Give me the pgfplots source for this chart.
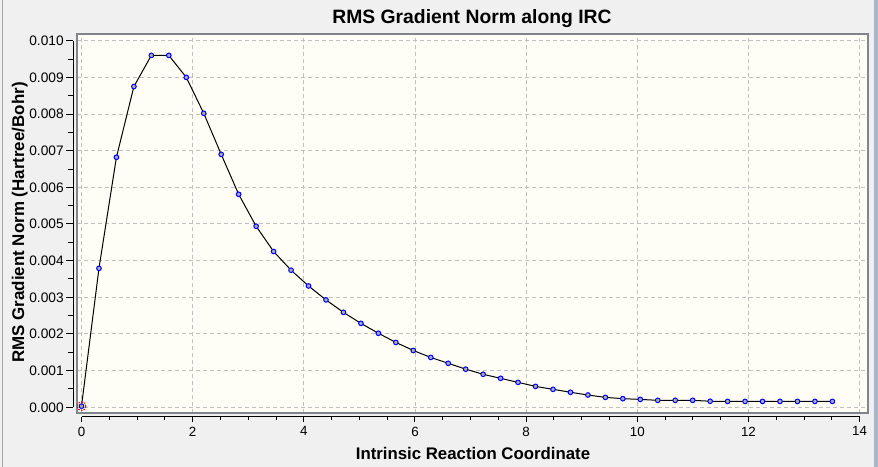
\documentclass[border=0pt]{standalone}
\usepackage{fontspec}
\setmainfont{Liberation Sans}
\usepackage{pgfplots}
\pgfplotsset{compat=1.18}
\definecolor{bgc}{RGB}{240,240,240}
\definecolor{plotbg}{RGB}{254,254,246}
\definecolor{boxc}{RGB}{128,132,140}
\definecolor{gridc}{RGB}{192,192,192}
\definecolor{markfill}{RGB}{170,170,185}
\definecolor{edgec}{RGB}{168,182,202}
\pgfplotstableread{
x y
0 0.00003
0.3142 0.00379
0.6283 0.00682
0.9425 0.00875
1.2566 0.00960
1.5708 0.00960
1.8850 0.00900
2.1991 0.00802
2.5133 0.00690
2.8274 0.00581
3.1416 0.00494
3.4558 0.00425
3.7699 0.00374
4.0841 0.00331
4.3982 0.00293
4.7124 0.00259
5.0265 0.00229
5.3407 0.00202
5.6549 0.00177
5.9690 0.00155
6.2832 0.00136
6.5973 0.00120
6.9115 0.00104
7.2257 0.00090
7.5398 0.00079
7.8540 0.00068
8.1681 0.00057
8.4823 0.00049
8.7965 0.00041
9.1106 0.000335
9.4248 0.00027
9.7389 0.000235
10.0531 0.000215
10.3673 0.00019
10.6814 0.00019
10.9956 0.00019
11.3097 0.000165
11.6239 0.00016
11.9381 0.00016
12.2522 0.00016
12.5664 0.00016
12.8805 0.00016
13.1947 0.00016
13.5088 0.00016
}\irc
\begin{document}
\begin{tikzpicture}[x=0.75pt,y=0.75pt]
\path[use as bounding box, fill=bgc] (0,0) rectangle (878,467);
\fill[edgec] (874,0) rectangle (878,467);
\draw[black!35, line width=0.75pt] (2.5,0) -- (2.5,467);

\begin{axis}[
  at={(57.75pt,40.275pt)}, anchor=south west, scale only axis,
  width=593.5pt, height=284.25pt,
  xmin=-0.081, xmax=14.156, ymin=-0.000164, ymax=0.010175,
  axis background/.style={fill=plotbg},
  axis line style={draw=boxc, line width=1.5pt},
  xtick={0,2,4,6,8,10,12,14},
  ytick={0,0.001,0.002,0.003,0.004,0.005,0.006,0.007,0.008,0.009,0.010},
  xticklabels={}, yticklabels={}, scaled y ticks=false, scaled x ticks=false,
  tick style={draw=none},
  grid=major,
  major grid style={gridc, dash pattern=on 3pt off 2.25pt, line width=0.75pt},
]
\addplot[black, line width=0.75pt, mark=*, mark size=1.75pt,
  mark options={draw=blue, fill=markfill, line width=0.75pt, solid}] table[x=x,y=y] {\irc};
\addplot[only marks, mark=o, mark size=3.3pt,
  mark options={draw=red, line width=0.75pt, dash pattern=on 1.2pt off 0.9pt}] coordinates {(0,0.00003)};
\end{axis}

\begin{axis}[
  at={(54.975pt,44.775pt)}, anchor=south west, scale only axis,
  width=10pt, height=274.95pt,
  xmin=0, xmax=1, ymin=0, ymax=0.010,
  axis x line=none, axis y line*=left,
  axis line style={black, line width=0.75pt, -},
  ytick={0,0.001,0.002,0.003,0.004,0.005,0.006,0.007,0.008,0.009,0.010},
  yticklabels={0.000,0.001,0.002,0.003,0.004,0.005,0.006,0.007,0.008,0.009,0.010},
  scaled y ticks=false,
  minor y tick num=1,
  tick align=outside, ytick pos=left,
  major tick length=5.5pt, minor tick length=3.75pt,
  tick style={black, line width=0.75pt},
  yticklabel style={font=\fontsize{10.3}{12}\selectfont, inner sep=1.5pt},
]
\end{axis}

\begin{axis}[
  at={(61.125pt,37.725pt)}, anchor=south west, scale only axis,
  width=583.6pt, height=10pt,
  xmin=0, xmax=14, ymin=0, ymax=1,
  axis y line=none, axis x line*=bottom,
  axis line style={black, line width=0.75pt, -},
  xtick={0,2,4,6,8,10,12,14},
  xticklabels={0,2,4,6,8,10,12,14},
  minor x tick num=3,
  tick align=outside, xtick pos=bottom,
  major tick length=4pt, minor tick length=2.5pt,
  tick style={black, line width=0.75pt},
  xticklabel style={font=\fontsize{10}{12}\selectfont},
]
\end{axis}

\node[anchor=base, font=\bfseries\fontsize{14.5}{16}\selectfont] at (472,443.7) {RMS Gradient Norm along IRC};
\node[anchor=base, font=\bfseries\fontsize{12.6}{15}\selectfont] at (473,7) {Intrinsic Reaction Coordinate};
\node[anchor=base, rotate=90, font=\bfseries\fontsize{12.7}{15}\selectfont] at (24,244.5) {RMS Gradient Norm (Hartree/Bohr)};
\end{tikzpicture}
\end{document}
